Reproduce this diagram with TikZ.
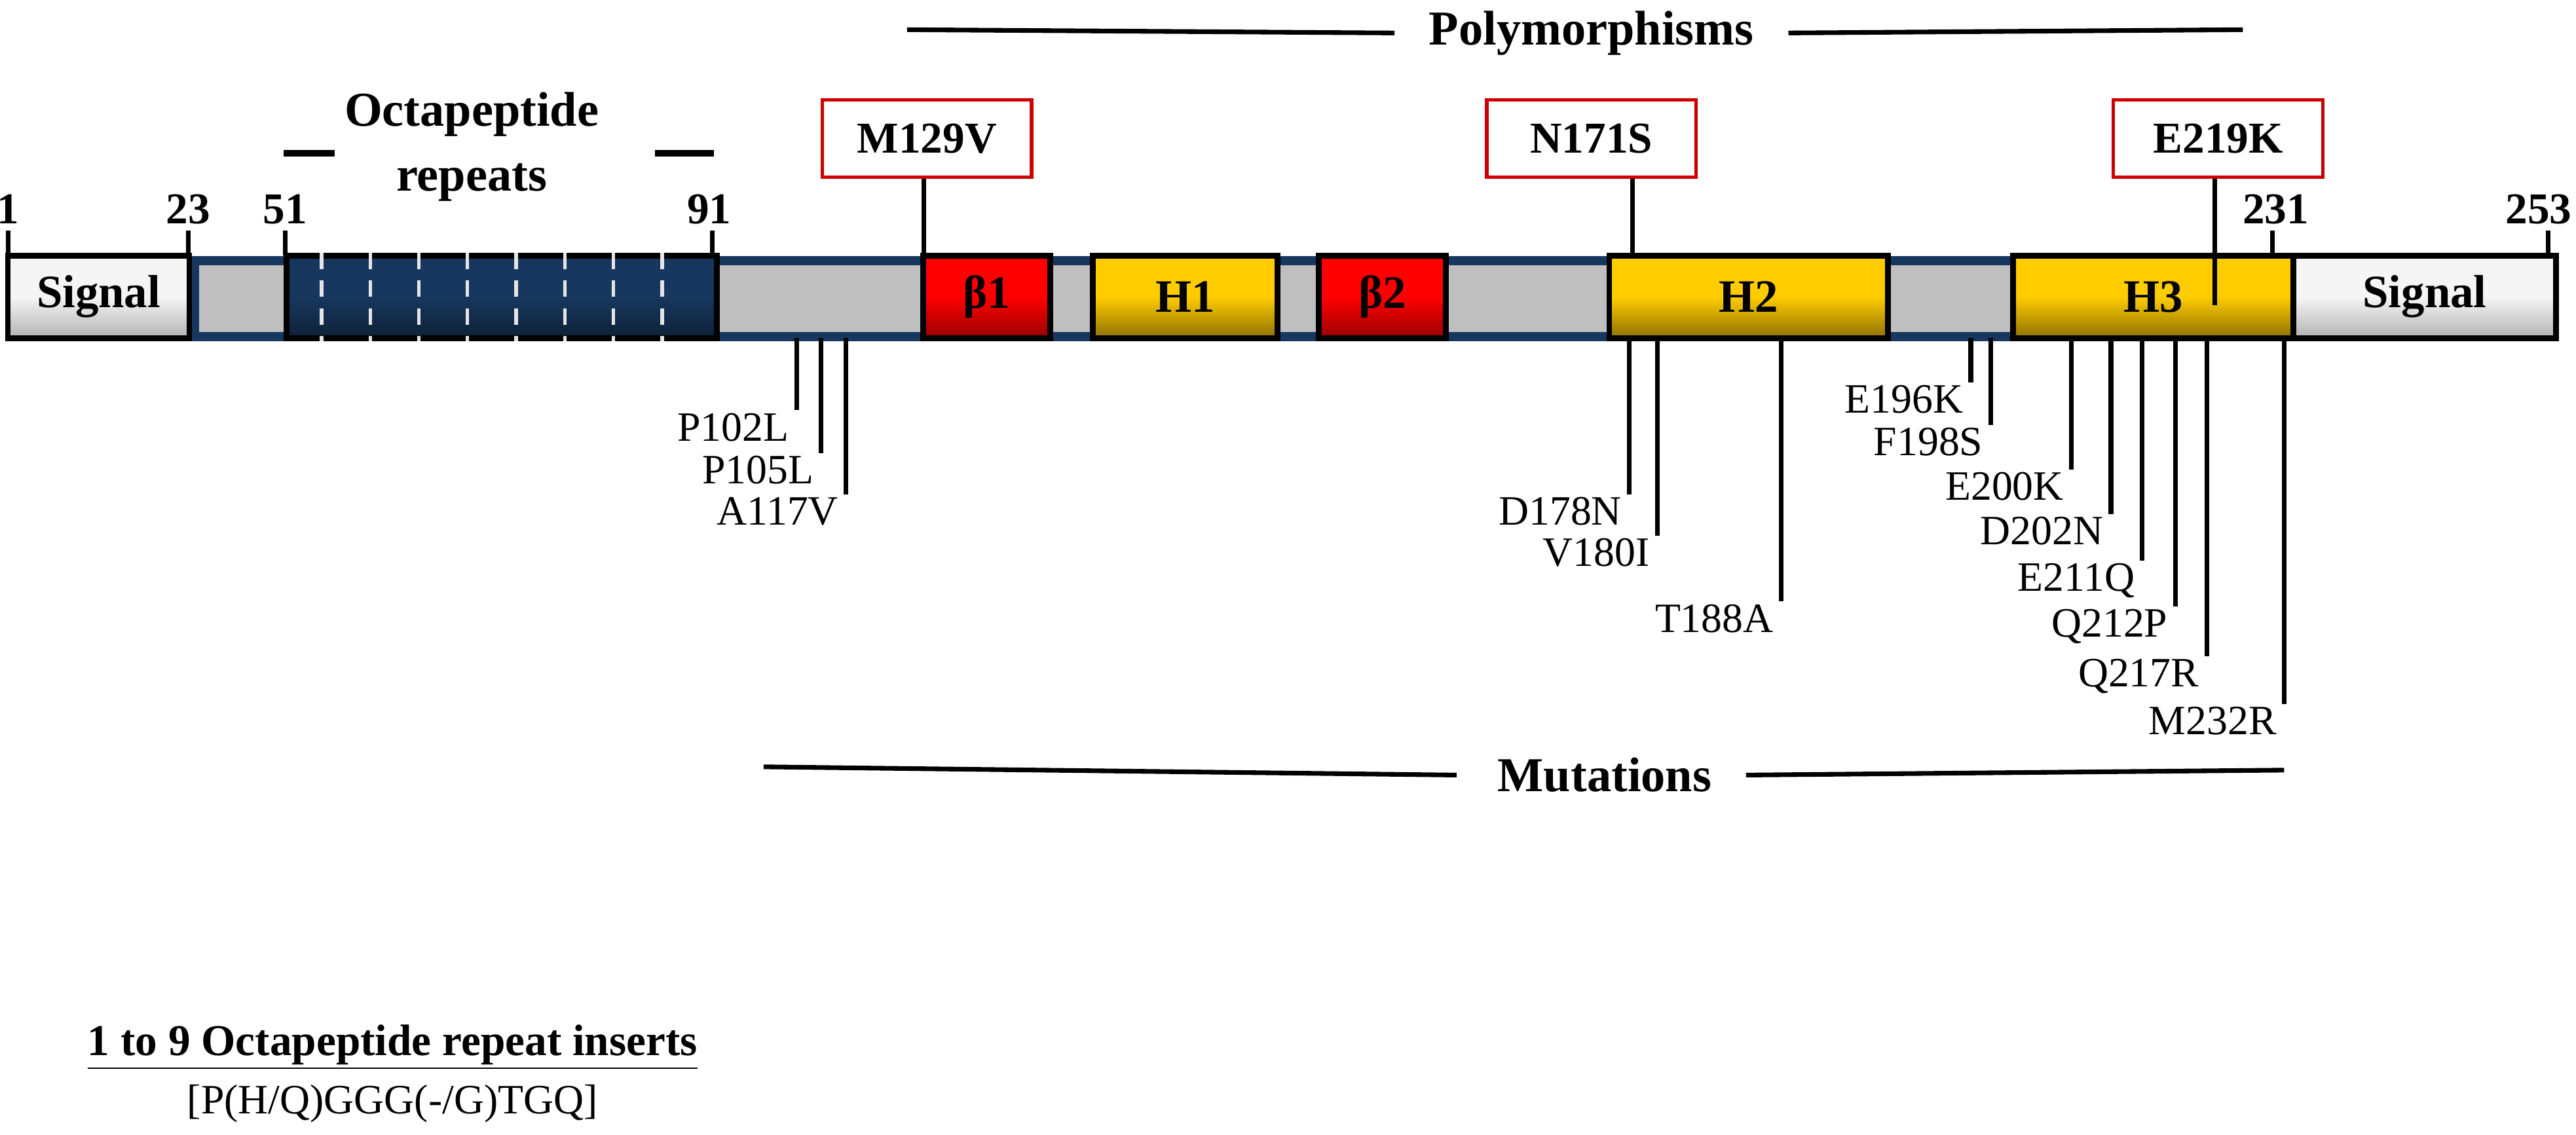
\documentclass[tikz,border=0pt]{standalone}
\usepackage{fontspec}
\setmainfont{Liberation Serif}
\usetikzlibrary{positioning}

\definecolor{gold}{RGB}{255,204,0}
\definecolor{navy}{RGB}{23,55,94}
\tikzset{
  dom/.style={draw=black, line width=2.5pt, minimum height=1.25cm, inner sep=0, font=\bfseries\fontsize{20}{22}\selectfont},
  helix/.style={dom, top color=gold, bottom color=gold!55!black, middle color=gold},
  sheet/.style={dom, top color=red, bottom color=red!60!black, middle color=red},
  sig/.style={dom, top color=gray!8, bottom color=gray!60, middle color=gray!8},
  poly/.style={draw=red!80!black, line width=1.5pt, fill=white, minimum width=3.175cm, minimum height=1.175cm, font=\bfseries\fontsize{19}{21}\selectfont},
  mut/.style={inner sep=1pt, font=\fontsize{18}{20}\selectfont},
  resnum/.style={font=\bfseries\fontsize{19}{21}\selectfont, inner sep=1pt},
  head/.style={font=\bfseries\fontsize{21}{24}\selectfont},
  stick/.style={line width=2pt}
}

\begin{document}
\begin{tikzpicture}[x=0.025cm, y=-0.025cm]
\useasboundingbox (0,0) rectangle (1562,688);
% backbone
\node[draw=navy, line width=4pt, fill=gray!50, minimum width={1277*0.025cm}, minimum height=1.15cm, anchor=west, inner sep=0] (bar) at (115,181) {};
% domains
\node[sig, minimum width={110*0.025cm}, anchor=west] (sigL) at (3,180) {Signal};
\node[dom, top color=navy, bottom color=navy!60!black, middle color=navy, minimum width={261*0.025cm}, anchor=west] (oct) at (172,180) {};
\foreach \i in {0,...,7}
  \draw[gray!20, line width=1.5pt, dash pattern=on 7pt off 5pt] ([xshift={(23+\i*29.5)*0.025cm}] oct.north west) -- ([xshift={(23+\i*29.5)*0.025cm}] oct.south west);
\node[sheet, minimum width={77*0.025cm}, anchor=west] (b1) at (558,180) {β1};
\node[helix, minimum width={112*0.025cm}, anchor=west] (h1) at (661,180) {H1};
\node[sheet, minimum width={77*0.025cm}, anchor=west] (b2) at (798,180) {β2};
\node[helix, minimum width={169*0.025cm}, anchor=west] (h2) at (974,180) {H2};
\node[helix, minimum width={170*0.025cm}, anchor=west] (h3) at (1219,180) {H3};
\node[sig, minimum width={159*0.025cm}, anchor=west] (sigR) at (1389,180) {Signal};

% residue positions
\foreach \x/\t/\n in {5/1/p1, 114/23/p23, 173/51/p51, 432/91/p91, 1378/231/p231, 1545/253/p253} {
  \coordinate (t\n) at (\x,155);
  \draw[stick] (t\n) -- ([yshift=0.38cm] t\n);
}
\node[resnum] (p1) at (5,127) {1};
\node[resnum] (p23) at (114,127) {23};
\node[resnum] (p51) at (173,127) {51};
\node[resnum] (p91) at (430,127) {91};
\node[resnum] (p231) at (1380,127) {231};
\node[resnum, anchor=east] (p253) at (1561,127) {253};

% octapeptide label
\node[head, align=center, font=\bfseries\fontsize{21}{28}\selectfont] (octlab) at (286,89) {Octapeptide\\repeats};
\draw[line width=3pt] (172,93) -- (203,93);
\draw[line width=3pt] (397,93) -- (433,93);

% polymorphisms
\node[head] (polylab) at (965,20) {Polymorphisms};
\draw[stick] (550,18) -- ([xshift=-0.4cm] polylab.west);
\draw[stick] ([xshift=0.4cm] polylab.east) -- (1360,18);
\node[poly] (m129) at (562,84) {M129V};
\node[poly] (n171) at (965,84) {N171S};
\node[poly] (e219) at (1345,84) {E219K};
\coordinate (c129) at (560,155);
\coordinate (c171) at (990,157);
\coordinate (c219) at (1343,185);
\draw[stick] (m129.south -| c129) -- (c129);
\draw[stick] (n171.south -| c171) -- (c171);
\draw[stick] (e219.south -| c219) -- (c219);

% mutations
\foreach \x/\y/\t/\n in {483/259/P102L/m102, 498/285/P105L/m105, 513/310/A117V/m117,
  988/310/D178N/m178, 1005/335/V180I/m180, 1080/375/T188A/m188,
  1195/242/E196K/m196, 1207/268/F198S/m198, 1256/295/E200K/m200,
  1280/322/D202N/m202, 1299/352/E211Q/m211, 1319/380/Q212P/m212,
  1338/410/Q217R/m217, 1385/437/M232R/m232} {
  \node[mut, anchor=east] (\n) at (\x-3,\y) {\t};
  \coordinate (s\n) at (\x,205);
  \draw[stick] (s\n) -- (s\n |- \n.north east);
}
\node[head] (mutlab) at (973,470) {Mutations};
\draw[stick] (463,465) -- ([xshift=-0.5cm] mutlab.west);
\draw[stick] ([xshift=0.4cm] mutlab.east) -- (1385,467);

% inserts
\node[head, font=\bfseries\fontsize{19}{21}\selectfont] (ins) at (238,635) {\underline{1 to 9 Octapeptide repeat inserts}};
\node[mut, below=2pt of ins] (seq) {[P(H/Q)GGG(-/G)TGQ]};
\end{tikzpicture}
\end{document}
